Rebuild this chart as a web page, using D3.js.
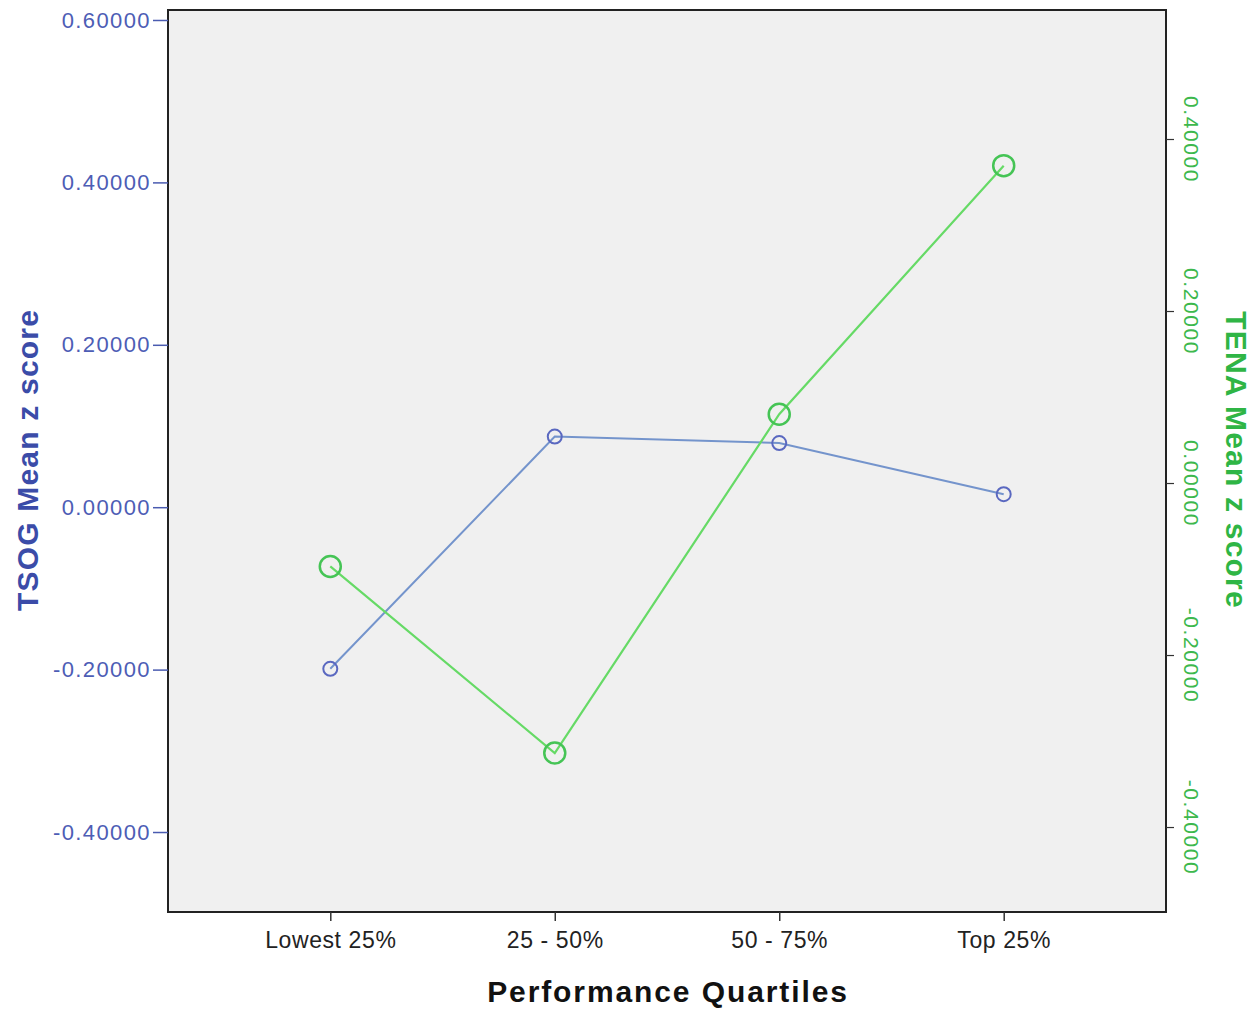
<!DOCTYPE html>
<html>
<head>
<meta charset="utf-8">
<script src="https://cdn.jsdelivr.net/npm/d3@7"></script>
<style>
  body { margin: 0; background: #fff; }
  svg { font-family: "Liberation Sans", Arial, sans-serif; }
</style>
</head>
<body>
<svg id="chart" width="1258" height="1014"></svg>
<script>
// data
var quartiles = ["Lowest 25%", "25 - 50%", "50 - 75%", "Top 25%"];
var tsog = [-0.199, 0.087, 0.079, 0.016];
var tena = [-0.097, -0.314, 0.080, 0.369];
var leftTicks = [0.6, 0.4, 0.2, 0.0, -0.2, -0.4];
var rightTicks = [0.4, 0.2, 0.0, -0.2, -0.4];

var svg = d3.select("#chart");
// plot box ("top" is taken by window.top, so use other names)
var plotL = 168, plotR = 1166, plotT = 10, plotB = 912;

var x = d3.scalePoint().domain(quartiles).range([plotL, plotR]).padding(0.723);
var yL = d3.scaleLinear().domain([-0.4985, 0.6123]).range([plotB, plotT]);
var yR = d3.scaleLinear().domain([-0.4988, 0.55]).range([plotB, plotT]);

// plot background
svg.append("rect")
  .attr("x", plotL).attr("y", plotT)
  .attr("width", plotR - plotL).attr("height", plotB - plotT)
  .attr("fill", "#f0f0f0")
  .attr("stroke", "#222").attr("stroke-width", 2);

// plain hyphen instead of d3's unicode minus
var fmt = function(d) { return d3.format(".5f")(d).replace("\u2212", "-"); };

// left axis
var gl = svg.append("g").attr("transform", "translate(" + plotL + ",0)")
  .call(d3.axisLeft(yL).tickValues(leftTicks).tickFormat(fmt).tickSize(15).tickPadding(2));
gl.select(".domain").remove();
gl.selectAll("line").attr("stroke", "#4a5bb0").attr("stroke-width", 1.5);
gl.selectAll("text").attr("fill", "#4d5db5").attr("font-size", 22)
  .attr("letter-spacing", 1.4);

// right axis, labels turned a quarter clockwise
var gr = svg.append("g").attr("transform", "translate(" + plotR + ",0)")
  .call(d3.axisRight(yR).tickValues(rightTicks).tickFormat(fmt).tickSize(8));
gr.select(".domain").remove();
gr.selectAll("line").attr("stroke", "#333").attr("stroke-width", 1.2);
gr.selectAll("text")
  .attr("fill", "#3db84d").attr("font-size", 21)
  .attr("letter-spacing", 1.6)
  .attr("x", 0).attr("dy", 0)
  .attr("text-anchor", "middle")
  .attr("dominant-baseline", "middle")
  .attr("transform", "translate(24,0) rotate(90)");

// bottom axis
var gb = svg.append("g").attr("transform", "translate(0," + plotB + ")")
  .call(d3.axisBottom(x).tickSize(9).tickPadding(11));
gb.select(".domain").remove();
gb.selectAll("line").attr("stroke", "#333").attr("stroke-width", 1.5);
gb.selectAll("text").attr("fill", "#222").attr("font-size", 23)
  .attr("letter-spacing", 0.6);

// axis titles
svg.append("text")
  .attr("transform", "translate(38,460) rotate(-90)")
  .attr("text-anchor", "middle")
  .attr("font-size", 30).attr("font-weight", "bold")
  .attr("letter-spacing", 1.2)
  .attr("fill", "#3b4ca8")
  .text("TSOG Mean z score");

svg.append("text")
  .attr("transform", "translate(1226,460) rotate(90)")
  .attr("text-anchor", "middle")
  .attr("font-size", 30).attr("font-weight", "bold")
  .attr("letter-spacing", 1.2)
  .attr("fill", "#2fb545")
  .text("TENA Mean z score");

svg.append("text")
  .attr("x", 668).attr("y", 1002)
  .attr("text-anchor", "middle")
  .attr("font-size", 30).attr("font-weight", "bold")
  .attr("letter-spacing", 1.9)
  .attr("fill", "#111")
  .text("Performance Quartiles");

// series
var lineL = d3.line().x(function(d, i) { return x(quartiles[i]); }).y(function(d) { return yL(d); });
var lineR = d3.line().x(function(d, i) { return x(quartiles[i]); }).y(function(d) { return yR(d); });

svg.append("path").datum(tsog).attr("d", lineL)
  .attr("fill", "none").attr("stroke", "#7494cc").attr("stroke-width", 2);
svg.selectAll(".ptL").data(tsog).enter().append("circle")
  .attr("class", "ptL")
  .attr("cx", function(d, i) { return x(quartiles[i]); })
  .attr("cy", function(d) { return yL(d); })
  .attr("r", 7)
  .attr("fill", "none").attr("stroke", "#5a68c0").attr("stroke-width", 2);

svg.append("path").datum(tena).attr("d", lineR)
  .attr("fill", "none").attr("stroke", "#66da66").attr("stroke-width", 2.2);
svg.selectAll(".ptR").data(tena).enter().append("circle")
  .attr("class", "ptR")
  .attr("cx", function(d, i) { return x(quartiles[i]); })
  .attr("cy", function(d) { return yR(d); })
  .attr("r", 10.5)
  .attr("fill", "none").attr("stroke", "#45c455").attr("stroke-width", 2.5);
</script>
</body>
</html>
